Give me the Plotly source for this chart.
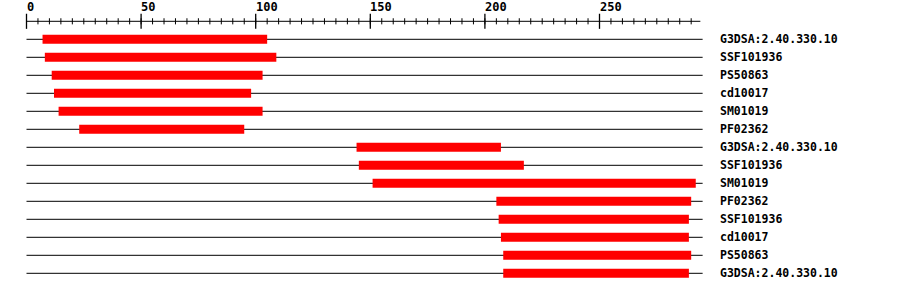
import plotly.graph_objects as go

# ---- data ----
labels = ["G3DSA:2.40.330.10", "SSF101936", "PS50863", "cd10017", "SM01019", "PF02362",
          "G3DSA:2.40.330.10", "SSF101936", "SM01019", "PF02362", "SSF101936", "cd10017",
          "PS50863", "G3DSA:2.40.330.10"]
starts = [7, 8, 11, 12, 14, 23, 144, 145, 151, 205, 206, 207, 208, 208]
ends = [105, 109, 103, 98, 103, 95, 207, 217, 292, 290, 289, 289, 290, 289]
seq_length = 295
major_ticks = [0, 50, 100, 150, 200, 250]
minor_ticks = list(range(0, 295, 5))

n = len(labels)
rows = list(range(n))
ruler_row = -1

fig = go.Figure()

# baselines
bx, by = [], []
for r in rows:
    bx += [0, seq_length, None]
    by += [r, r, None]
fig.add_trace(go.Scatter(x=bx, y=by, mode="lines", line=dict(color="black", width=1),
                         hoverinfo="skip", showlegend=False))

# domain bars (thick line segments, drawn over the baselines)
dx, dy = [], []
for r, s, e in zip(rows, starts, ends):
    dx += [s, e, None]
    dy += [r, r, None]
fig.add_trace(go.Scatter(x=dx, y=dy, mode="lines", line=dict(color="#ff0000", width=9),
                         hoverinfo="skip", showlegend=False))

# ruler axis line
fig.add_trace(go.Scatter(x=[0, seq_length - 1], y=[ruler_row, ruler_row], mode="lines",
                         line=dict(color="black", width=1), hoverinfo="skip", showlegend=False))
# minor ticks
mx, my = [], []
for t in minor_ticks:
    mx += [t, t, None]
    my += [ruler_row - 0.17, ruler_row + 0.17, None]
fig.add_trace(go.Scatter(x=mx, y=my, mode="lines", line=dict(color="black", width=1),
                         hoverinfo="skip", showlegend=False))
# major ticks
Mx, My = [], []
for t in major_ticks:
    Mx += [t, t, None]
    My += [ruler_row - 0.42, ruler_row + 0.42, None]
fig.add_trace(go.Scatter(x=Mx, y=My, mode="lines", line=dict(color="black", width=1.3),
                         hoverinfo="skip", showlegend=False))

annotations = []
for t in major_ticks:
    annotations.append(dict(x=t, y=ruler_row - 0.78, xref="x", yref="y", text=f"<b>{t}</b>",
                            showarrow=False, xanchor="left", yanchor="middle", xshift=-2,
                            font=dict(family="DejaVu Sans Mono", size=12, color="black")))
for r, lab in zip(rows, labels):
    annotations.append(dict(x=302.6, y=r, xref="x", yref="y", text=f"<b>{lab}</b>",
                            showarrow=False, xanchor="left", yanchor="middle", xshift=-2,
                            font=dict(family="DejaVu Sans Mono", size=11.5, color="black")))

px_per_unit = 2.292
x0_px = 26.5
fig.update_layout(
    width=900, height=292,
    margin=dict(l=0, r=0, t=0, b=0),
    paper_bgcolor="white", plot_bgcolor="white",
    xaxis=dict(range=[-x0_px / px_per_unit, (900 - x0_px) / px_per_unit], visible=False,
               fixedrange=True),
    yaxis=dict(range=[(292 - 39.3) / 18, (0 - 39.3) / 18], visible=False, fixedrange=True),
    annotations=annotations,
)

fig.write_html("out.html")
